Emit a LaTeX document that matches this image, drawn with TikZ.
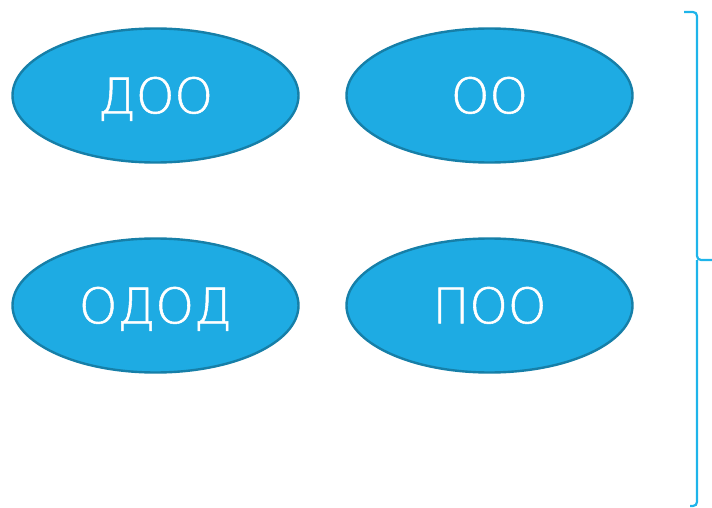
\documentclass[tikz,border=0pt]{standalone}
\usepackage{fontspec}
\usetikzlibrary{shapes.geometric}
\newfontfamily\lbl[FakeBold=1.1]{DejaVu Sans ExtraLight}
\definecolor{efill}{HTML}{1EABE3}
\definecolor{edraw}{HTML}{167FA8}
\definecolor{brc}{HTML}{1EB4EA}
\begin{document}
\begin{tikzpicture}[x=1pt,y=-1pt,
  oval/.style={ellipse, draw=edraw, line width=2.4pt, fill=efill, minimum width=286pt, minimum height=134pt, inner sep=0pt, text=white, text height=35.5pt, text depth=0pt, font=\lbl\fontsize{49}{49}\selectfont},
  brace/.style={draw=brc, line width=2.2pt, line cap=butt}]
\useasboundingbox (0,0) rectangle (712,508);
\node[oval] (a) at (155.5,95.5) {ДОО};
\node[oval] (b) at (489.5,95.5) {ОО};
\node[oval] (c) at (155.5,305.5) {ОДОД};
\node[oval] (d) at (489.5,305.5) {ПОО};
\coordinate (t) at (684,12);
\coordinate (m) at (712,260);
\coordinate (bt) at (690,506);
\draw[brace] (t) -- (693,12) to[out=0,in=90] (697,16) -- (697,256) to[out=-90,in=180] (701,260) -- (m);
\draw[brace] (697,260) -- (697,502) to[out=-90,in=0] (693,506) -- (bt);
\end{tikzpicture}
\end{document}
